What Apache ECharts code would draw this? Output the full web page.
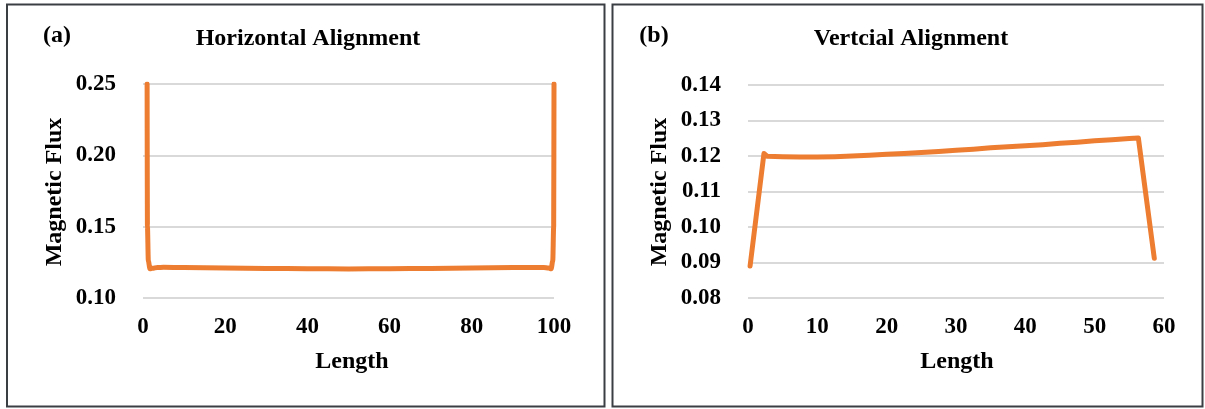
<!DOCTYPE html>
<html>
<head>
<meta charset="utf-8">
<script src="https://cdn.jsdelivr.net/npm/echarts@6/dist/echarts.min.js"></script>
<style>
html,body{margin:0;padding:0;background:#fff;}
#c{width:1205px;height:409px;}
</style>
</head>
<body>
<div id="c"></div>
<script>
// Panel (a): Horizontal Alignment
const hLength = [1, 1.08, 1.3, 1.7, 2.3, 3.5, 5, 10, 20, 30, 40, 50, 60, 70, 80, 90, 95, 97.5, 98.7, 99.3, 99.7, 99.92, 100];
const hFlux   = [0.25, 0.15, 0.126, 0.1205, 0.1208, 0.1214, 0.1215, 0.1213, 0.1210, 0.1207, 0.1205, 0.1204, 0.1205, 0.1207, 0.1210, 0.1213, 0.1214, 0.1214, 0.1210, 0.1205, 0.126, 0.15, 0.25];
const hXTicks = [0, 20, 40, 60, 80, 100];
const hYTicks = [0.10, 0.15, 0.20, 0.25];

// Panel (b): Vertcial Alignment
const vLength = [0.3, 2.3, 2.8, 5, 7.5, 10, 12.5, 15, 17.5, 20, 22.5, 25, 27.5, 30, 32.5, 35, 37.5, 40, 42.5, 45, 47.5, 50, 52.5, 55, 56.3, 58.6];
const vFlux   = [0.0890, 0.1207, 0.1199, 0.1198, 0.1197, 0.1197, 0.1198, 0.1200, 0.1202, 0.1205, 0.1207, 0.1210, 0.1213, 0.1216, 0.1219, 0.1223, 0.1226, 0.1229, 0.1232, 0.1236, 0.1239, 0.1243, 0.1246, 0.1249, 0.1251, 0.0912];
const vXTicks = [0, 10, 20, 30, 40, 50, 60];
const vYTicks = [0.08, 0.09, 0.10, 0.11, 0.12, 0.13, 0.14];

const FONT = 'Liberation Serif';
const FS = 23;   // tick labels
const FT = 24;   // titles and axis names
const ORANGE = '#ED7D31';

function pairs(xs, ys){ return xs.map((x,i)=>[x, ys[i]]); }

function xAxisCfg(gi, ticks){
  return {
    type:'value', gridIndex:gi, min:ticks[0], max:ticks[ticks.length-1],
    interval:ticks[1]-ticks[0],
    axisLine:{show:false}, axisTick:{show:false}, splitLine:{show:false},
    axisLabel:{color:'#000', fontFamily:FONT, fontWeight:'bold', fontSize:FS, margin:18}
  };
}
function yAxisCfg(gi, ticks){
  return {
    type:'value', gridIndex:gi, min:ticks[0], max:ticks[ticks.length-1],
    interval:+(ticks[1]-ticks[0]).toFixed(4),
    axisLine:{show:false}, axisTick:{show:false},
    splitLine:{show:true, lineStyle:{color:'#d9d9d9', width:2}},
    axisLabel:{color:'#000', fontFamily:FONT, fontWeight:'bold', fontSize:FS, margin:27,
      formatter:v=>v.toFixed(2)}
  };
}
const txt = (x,y,t,rot)=>({type:'text', x:x, y:y, rotation:rot||0,
  style:{text:t, fill:'#000', font:'bold '+FT+'px "'+FONT+'"', textAlign:'center', textVerticalAlign:'middle'}});

const chart = echarts.init(document.getElementById('c'), null, {renderer:'canvas'});
chart.setOption({
  animation:false,
  backgroundColor:'#fff',
  grid:[
    {left:143, top:84, width:411, height:214},
    {left:748, top:85, width:416, height:213}
  ],
  xAxis:[xAxisCfg(0,hXTicks), xAxisCfg(1,vXTicks)],
  yAxis:[yAxisCfg(0,hYTicks), yAxisCfg(1,vYTicks)],
  series:[
    {type:'line', xAxisIndex:0, yAxisIndex:0, data:pairs(hLength,hFlux), showSymbol:false,
     smooth:0.3, smoothMonotone:'x',
     lineStyle:{color:ORANGE, width:5, cap:'round', join:'round'}},
    {type:'line', xAxisIndex:1, yAxisIndex:1, data:pairs(vLength,vFlux), showSymbol:false,
     lineStyle:{color:ORANGE, width:5, cap:'round', join:'round'}}
  ],
  graphic:[
    {type:'rect', shape:{x:7, y:4.5, width:597.5, height:402}, style:{fill:null, stroke:'#3a3f44', lineWidth:2}},
    {type:'rect', shape:{x:612.5, y:4.5, width:590, height:402}, style:{fill:null, stroke:'#3a3f44', lineWidth:2}},
    txt(57,36,'(a)'),
    txt(308,39,'Horizontal Alignment'),
    txt(352,362,'Length'),
    txt(55,192,'Magnetic Flux', Math.PI/2),
    txt(654,36,'(b)'),
    txt(911,39,'Vertcial Alignment'),
    txt(957,362,'Length'),
    txt(660,192,'Magnetic Flux', Math.PI/2)
  ]
});
</script>
</body>
</html>
